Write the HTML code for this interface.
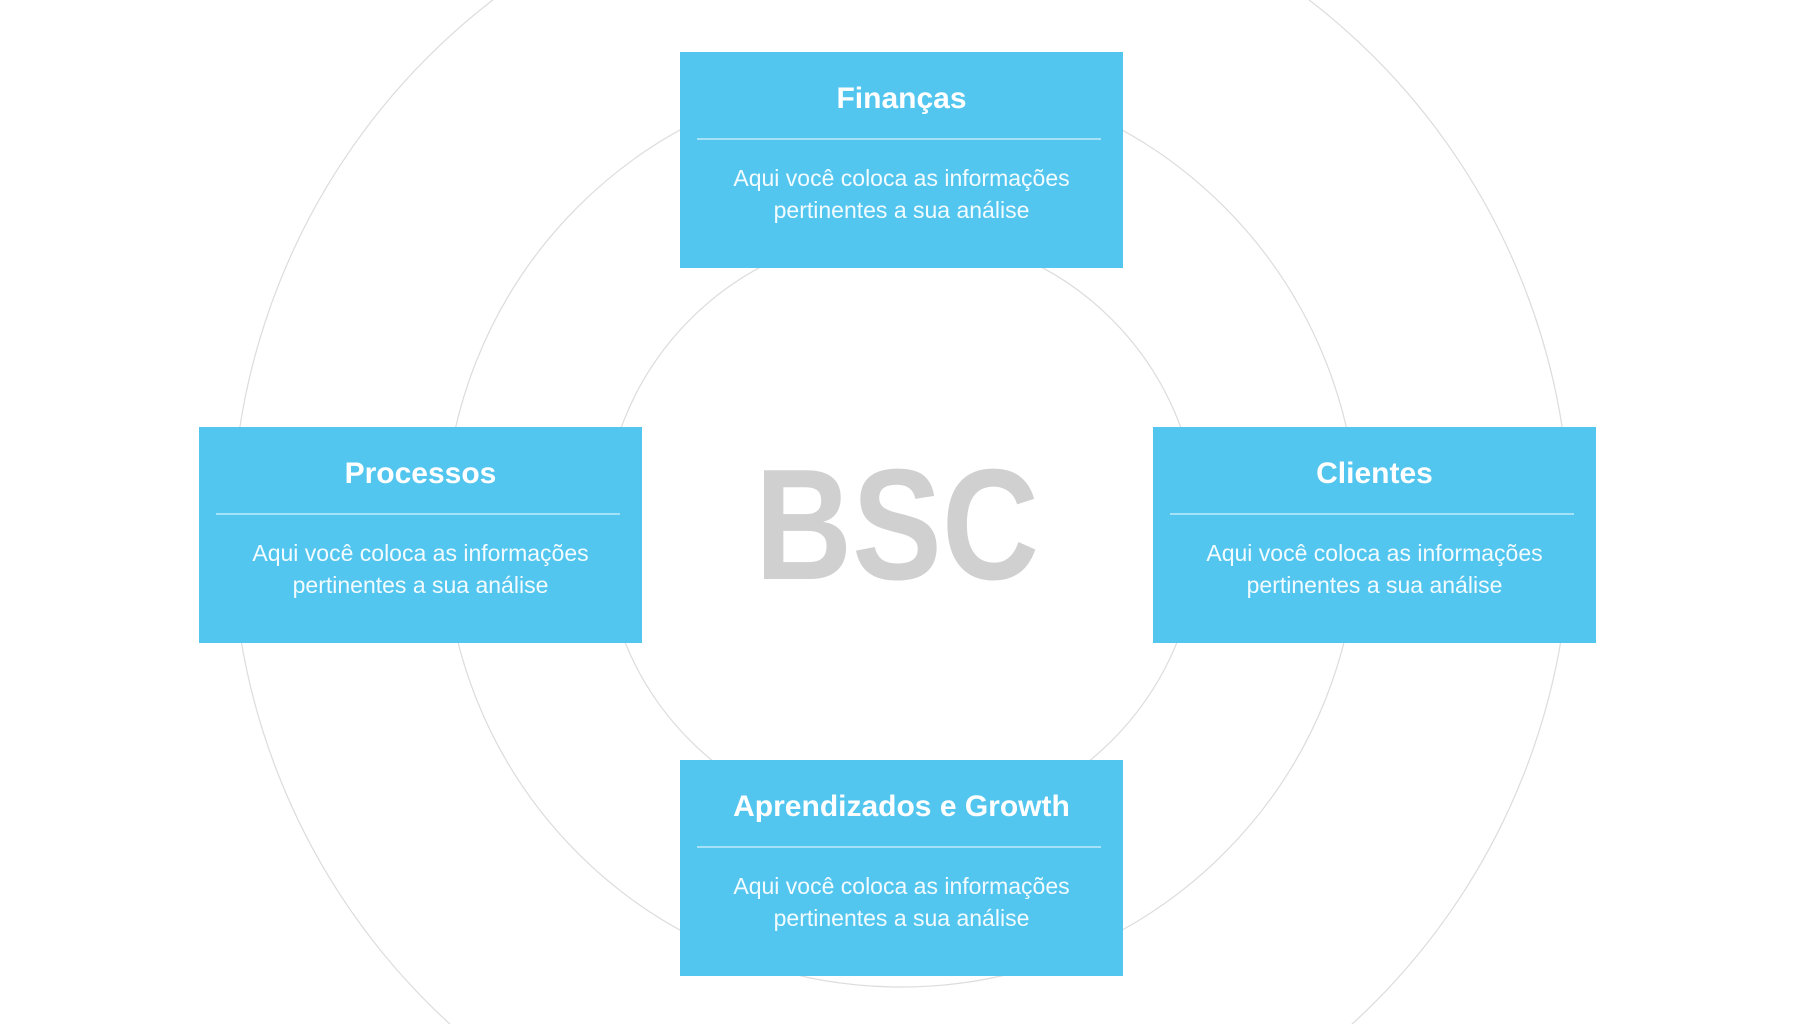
<!DOCTYPE html>
<html><head><meta charset="utf-8"><style>
html,body{margin:0;padding:0;width:1820px;height:1024px;overflow:hidden;background:#fff;font-family:"Liberation Sans",sans-serif;position:relative;}
svg{position:absolute;left:0;top:0;display:block}
.box{position:absolute;width:443px;height:216px;background:#53C6EF;color:#fff;text-align:center;}
.t{position:absolute;left:0;right:0;top:29px;font-weight:bold;font-size:30px;line-height:36px;}
.d{position:absolute;left:17px;right:22px;top:86px;height:2px;background:#a6e2f7;}
.b{position:absolute;left:0;right:0;top:110px;font-size:23px;line-height:32px;color:#f2fbff;}
</style></head><body>
<svg width="1820" height="1024">
<g fill="none" stroke="#dcdcdc" stroke-width="1.2">
<circle cx="901" cy="530" r="298"/>
<circle cx="901" cy="530" r="457"/>
<circle cx="901" cy="530" r="669"/>
</g>
<text x="897" y="579" text-anchor="middle" font-family="Liberation Sans" font-weight="bold" font-size="158" fill="#d0d0d0" textLength="284" lengthAdjust="spacingAndGlyphs">BSC</text>
</svg>
<div class="box" style="left:680px;top:52px"><div class="t">Finanças</div><div class="d"></div><div class="b">Aqui você coloca as informações<br>pertinentes a sua análise</div></div>
<div class="box" style="left:199px;top:427px"><div class="t">Processos</div><div class="d"></div><div class="b">Aqui você coloca as informações<br>pertinentes a sua análise</div></div>
<div class="box" style="left:1153px;top:427px"><div class="t">Clientes</div><div class="d"></div><div class="b">Aqui você coloca as informações<br>pertinentes a sua análise</div></div>
<div class="box" style="left:680px;top:760px"><div class="t">Aprendizados e Growth</div><div class="d"></div><div class="b">Aqui você coloca as informações<br>pertinentes a sua análise</div></div>
</body></html>
